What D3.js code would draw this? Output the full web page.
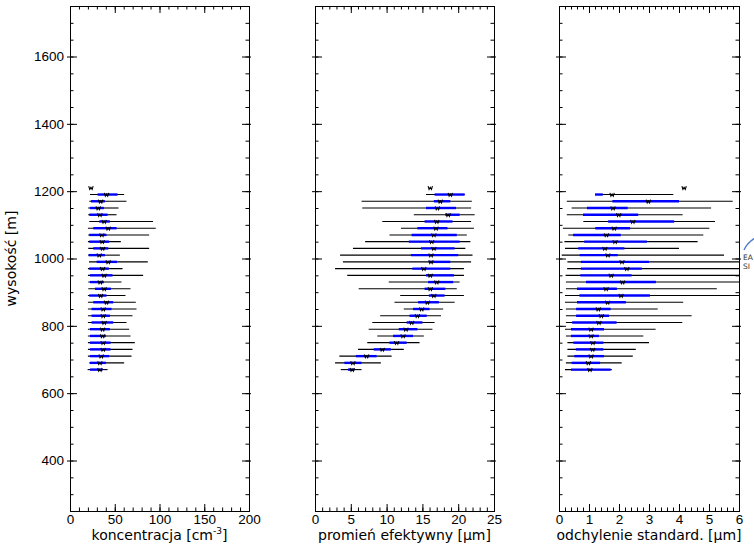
<!DOCTYPE html>
<html>
<head>
<meta charset="utf-8">
<script src="https://cdn.jsdelivr.net/npm/d3@7"></script>
<style>
  body { margin: 0; background: #fff; }
  svg { display: block; font-family: "DejaVu Sans", sans-serif; }
  .tick text { font-size: 13.5px; fill: #000; }
  .tick line { stroke: #000; }
</style>
</head>
<body>
<div id="chart-container"></div>
<script>
// Wysokości poziomów [m] (pierwszy poziom: tylko punkt).
const wysokosc = [1210, 1190, 1170, 1150, 1130, 1110, 1090, 1070, 1050, 1030, 1010, 990, 970, 950,
  930, 910, 890, 870, 850, 830, 810, 790, 770, 750, 730, 710, 690, 670];

// Koncentracja [cm^-3].
const koncSrednia = [23.4, 40.8, 34.2, 31.6, 33.4, 38.2, 42.7, 35.6, 36.0, 36.4, 32.7, 42.7, 36.4, 38.2,
  33.8, 38.2, 34.2, 40.8, 37.1, 37.1, 38.2, 36.4, 36.4, 37.1, 37.1, 34.9, 33.4, 33.4];
const koncMin = [null, 22.3, 21.5, 20.4, 20.4, 21.5, 20.0, 20.4, 20.0, 20.4, 20.4, 21.2, 20.0, 20.0,
  20.4, 20.4, 20.0, 20.0, 20.0, 20.0, 20.0, 20.0, 20.0, 20.0, 20.0, 20.0, 21.5, 19.7];
const koncMax = [null, 60.5, 63.1, 54.2, 52.0, 92.8, 95.8, 88.4, 56.8, 88.4, 55.7, 86.9, 58.7, 81.7,
  57.5, 67.6, 62.0, 73.5, 74.3, 69.8, 63.1, 66.1, 67.6, 72.4, 69.8, 68.7, 60.5, 42.0];
const koncDol = [null, 30.8, 23.4, 22.3, 21.5, 32.7, 26.0, 21.5, 21.5, 26.0, 20.8, 29.7, 21.5, 22.3,
  22.3, 27.9, 21.5, 26.0, 24.1, 24.1, 24.1, 22.3, 22.3, 22.3, 22.3, 22.3, 22.3, 22.3];
const koncGora = [null, 53.1, 39.0, 37.9, 42.0, 44.6, 52.0, 40.8, 43.8, 42.7, 39.0, 52.4, 43.4, 47.5,
  37.9, 45.7, 40.8, 48.3, 46.4, 44.6, 48.3, 44.6, 40.1, 45.3, 45.3, 43.8, 40.1, 36.4];

// Promień efektywny [um].
const promSrednia = [16.1, 18.9, 17.5, 17.1, 18.6, 17.0, 16.9, 16.6, 16.3, 16.6, 16.2, 16.2, 15.2, 16.1,
  17.0, 16.1, 16.6, 15.7, 14.9, 14.3, 13.5, 12.7, 12.3, 11.4, 9.4, 7.2, 5.3, 5.2];
const promMin = [null, 15.5, 6.5, 6.6, 13.8, 9.4, 12.0, 10.4, 7.0, 5.3, 3.5, 3.9, 2.8, 4.5,
  10.3, 6.1, 11.9, 11.1, 12.4, 9.1, 8.0, 7.5, 8.7, 7.3, 6.0, 3.4, 2.8, 3.6];
const promMax = [null, 20.9, 21.9, 21.8, 22.3, 21.8, 22.2, 21.2, 21.7, 21.0, 22.0, 21.8, 20.8, 20.8,
  20.2, 19.8, 20.8, 19.5, 17.9, 17.6, 16.7, 16.4, 15.2, 14.6, 12.4, 10.7, 9.2, 6.5];
const promDol = [null, 16.7, 16.6, 15.5, 18.2, 15.3, 14.3, 13.5, 13.1, 14.8, 13.4, 15.9, 13.6, 15.5,
  15.8, 15.3, 15.9, 14.4, 13.7, 13.2, 12.8, 11.7, 10.9, 10.4, 8.2, 5.7, 4.1, 4.6];
const promGora = [null, 20.9, 18.9, 19.7, 20.2, 19.2, 18.5, 19.8, 20.2, 19.5, 20.0, 18.9, 18.9, 19.4,
  19.3, 18.2, 18.1, 17.3, 16.0, 15.6, 15.0, 14.3, 13.7, 12.8, 10.6, 8.6, 6.5, 5.5];

// Odchylenie standardowe [um].
const odchSrednia = [4.17, 1.77, 2.98, 1.80, 1.99, 2.46, 1.84, 1.58, 1.87, 1.53, 1.63, 2.10, 2.26, 1.74,
  2.12, 1.57, 2.07, 1.62, 1.31, 1.41, 1.33, 1.07, 1.07, 1.13, 1.12, 1.07, 0.98, 1.03];
const odchMin = [null, 1.20, 0.26, 0.42, 0.26, 0.81, 0.13, 0.31, 0.18, 0.20, 0.09, 0.28, 0.27, 0.22,
  0.23, 0.23, 0.20, 0.20, 0.23, 0.23, 0.23, 0.20, 0.23, 0.28, 0.28, 0.28, 0.23, 0.20];
const odchMax = [null, 3.81, 5.79, 5.07, 4.12, 5.20, 5.01, 4.81, 4.62, 4.00, 5.50, 6.6, 7.0, 6.8,
  6.3, 5.26, 6.5, 4.14, 3.29, 4.42, 4.11, 3.22, 2.81, 3.00, 2.56, 2.46, 2.09, 1.76];
const odchDol = [null, 1.20, 1.78, 0.93, 0.80, 1.64, 1.21, 0.47, 0.84, 0.64, 0.69, 0.73, 0.73, 0.71,
  0.90, 0.60, 0.68, 0.60, 0.57, 0.57, 0.44, 0.40, 0.40, 0.48, 0.56, 0.51, 0.42, 0.40];
const odchGora = [null, 1.46, 4.00, 2.29, 2.64, 3.84, 2.37, 2.06, 2.93, 2.18, 1.96, 3.00, 2.76, 2.42,
  3.23, 1.93, 3.03, 2.23, 1.72, 1.67, 1.92, 1.50, 1.33, 1.48, 1.48, 1.50, 1.37, 1.72];

// Osie.
const yTicks = [400, 600, 800, 1000, 1200, 1400, 1600];
const yDomain = [250, 1750];

let fWidth = 754, fHeight = 545, plotTop = 6, plotBottom = 511;

const svg = d3.select("#chart-container").append("svg")
  .attr("width", fWidth)
  .attr("height", fHeight);

let yScale = d3.scaleLinear().domain(yDomain).range([plotBottom, plotTop]);

const panels = [
  { left: 70, right: 249, domain: [0, 200], major: d3.range(0, 201, 50), minor: d3.range(0, 201, 10),
    title: "koncentracja [cm", sup: "-3", titleEnd: "]",
    mean: koncSrednia, lo: koncMin, hi: koncMax, sdLo: koncDol, sdHi: koncGora, yLabels: true },
  { left: 315, right: 494, domain: [0, 25], major: d3.range(0, 26, 5), minor: d3.range(0, 26, 1),
    title: "promień efektywny [μm]",
    mean: promSrednia, lo: promMin, hi: promMax, sdLo: promDol, sdHi: promGora, yLabels: false },
  { left: 559, right: 739, domain: [0, 6], major: d3.range(0, 7, 1), minor: d3.range(0, 6.01, 0.2),
    title: "odchylenie standard. [μm]",
    mean: odchSrednia, lo: odchMin, hi: odchMax, sdLo: odchDol, sdHi: odchGora, yLabels: false }
];

const yMinor = d3.range(250, 1751, 50);

panels.forEach((p, k) => {
  let xScale = d3.scaleLinear().domain(p.domain).range([p.left, p.right]);
  let g = svg.append("g");
  let rows = wysokosc.map((h, i) => ({ h: h, mean: p.mean[i], lo: p.lo[i], hi: p.hi[i], sdLo: p.sdLo[i], sdHi: p.sdHi[i] }));

  // Clip.
  svg.append("clipPath").attr("id", "clip" + k)
    .append("rect")
      .attr("x", p.left).attr("y", plotTop)
      .attr("width", p.right - p.left).attr("height", plotBottom - plotTop);

  let plot = g.append("g").attr("clip-path", `url(#clip${k})`);

  // Zakres min-max.
  plot.selectAll(".range")
    .data(rows.filter(d => d.lo !== null))
    .enter()
    .append("line")
      .attr("x1", d => xScale(d.lo))
      .attr("x2", d => xScale(d.hi))
      .attr("y1", d => yScale(d.h))
      .attr("y2", d => yScale(d.h))
      .attr("stroke", "#000")
      .attr("stroke-width", 1.1);

  // Zakres odchylenia.
  plot.selectAll(".sd")
    .data(rows.filter(d => d.sdLo !== null))
    .enter()
    .append("line")
      .attr("x1", d => xScale(d.sdLo))
      .attr("x2", d => xScale(d.sdHi))
      .attr("y1", d => yScale(d.h))
      .attr("y2", d => yScale(d.h))
      .attr("stroke", "#0000ff")
      .attr("stroke-width", 2.4);

  // Punkty.
  plot.selectAll(".dot")
    .data(rows)
    .enter()
    .append("path")
      .attr("transform", d => `translate(${ xScale(d.mean) } ${ yScale(d.h) })`)
      .attr("d", "M-2.2,-1.6 L-1.2,1.6 L0,-0.4 L1.2,1.6 L2.2,-1.6")
      .attr("fill", "none")
      .attr("stroke", "#000")
      .attr("stroke-width", 1.1);

  // Ramka.
  g.append("rect")
    .attr("x", p.left + 0.5).attr("y", plotTop + 0.5)
    .attr("width", p.right - p.left).attr("height", plotBottom - plotTop)
    .attr("fill", "none").attr("stroke", "#000").attr("stroke-width", 1);

  // Osie X (dół z opisami, góra bez).
  g.append("g").attr("transform", `translate(0 ${ plotBottom })`)
    .call(d3.axisBottom(xScale).tickValues(p.minor).tickSizeInner(-3.5).tickSizeOuter(0).tickFormat(""));
  g.append("g").attr("transform", `translate(0 ${ plotBottom })`)
    .call(d3.axisBottom(xScale).tickValues(p.major).tickSizeInner(-7).tickSizeOuter(0).tickPadding(3).tickFormat(d3.format("d")));
  g.append("g").attr("transform", `translate(0 ${ plotTop })`)
    .call(d3.axisTop(xScale).tickValues(p.minor).tickSizeInner(-3.5).tickSizeOuter(0).tickFormat(""));
  g.append("g").attr("transform", `translate(0 ${ plotTop })`)
    .call(d3.axisTop(xScale).tickValues(p.major).tickSizeInner(-7).tickSizeOuter(0).tickFormat(""));

  // Osie Y.
  g.append("g").attr("transform", `translate(${ p.left } 0)`)
    .call(d3.axisLeft(yScale).tickValues(yMinor).tickSizeInner(-3.5).tickSizeOuter(0).tickFormat(""));
  g.append("g").attr("transform", `translate(${ p.left } 0)`)
    .call(d3.axisLeft(yScale).tickValues(yTicks).tickSizeInner(3).tickSizeOuter(0).tickFormat(""));
  g.append("g").attr("transform", `translate(${ p.left } 0)`)
    .call(d3.axisLeft(yScale).tickValues(yTicks).tickSizeInner(-7).tickSizeOuter(0).tickPadding(6)
      .tickFormat(p.yLabels ? d3.format("d") : ""));
  g.append("g").attr("transform", `translate(${ p.right } 0)`)
    .call(d3.axisRight(yScale).tickValues(yMinor).tickSizeInner(-3.5).tickSizeOuter(0).tickFormat(""));
  g.append("g").attr("transform", `translate(${ p.right } 0)`)
    .call(d3.axisRight(yScale).tickValues(yTicks).tickSizeInner(-7).tickSizeOuter(0).tickFormat(""));
  g.append("g").attr("transform", `translate(${ p.right } 0)`)
    .call(d3.axisRight(yScale).tickValues(yTicks).tickSizeInner(2).tickSizeOuter(0).tickFormat(""));

  g.selectAll(".domain").remove();

  // Opis osi X.
  let t = g.append("text")
    .attr("x", (p.left + p.right) / 2)
    .attr("y", 540)
    .attr("text-anchor", "middle")
    .attr("font-size", 14)
    .text(p.title);
  if (p.sup) {
    t.append("tspan").attr("dy", -6).attr("font-size", 9).text(p.sup);
    t.append("tspan").attr("dy", 6).text(p.titleEnd);
  }
});

// Opis osi Y.
svg.append("text")
  .attr("transform", `translate(16 ${ (plotTop + plotBottom) / 2 }) rotate(-90)`)
  .attr("text-anchor", "middle")
  .attr("font-size", 14)
  .text("wysokość [m]");

// Fragment logo przy prawej krawędzi.
svg.append("path")
  .attr("d", "M744,250 Q747,243 755,238")
  .attr("fill", "none")
  .attr("stroke", "#4a78c8")
  .attr("stroke-width", 1.3);
svg.append("text").attr("x", 743).attr("y", 260).attr("font-size", 7.5).attr("fill", "#333").text("EA");
svg.append("text").attr("x", 743).attr("y", 269).attr("font-size", 7.5).attr("fill", "#333").text("SI");
</script>
</body>
</html>
